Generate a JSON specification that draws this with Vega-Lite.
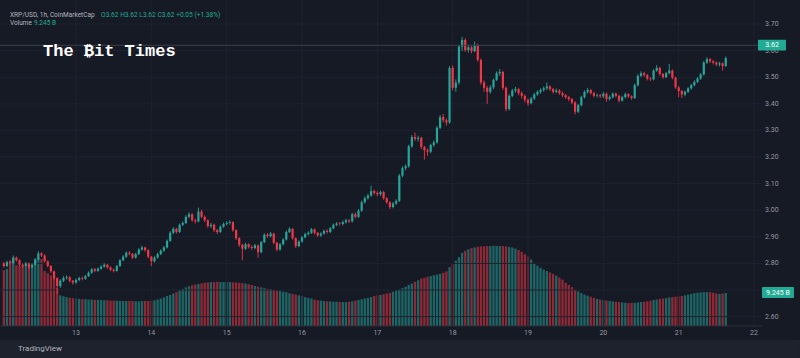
{
"$schema":"https://vega.github.io/schema/vega-lite/v6.json",
"width":762,"height":326,
"autosize":{"type":"none"},
"padding":{"left":0,"top":0,"right":38,"bottom":32},
"background":"#161a25",
"config":{"view":{"stroke":null},"font":"Roboto"},
"datasets":{"candles":[
{"t":"2025-07-12T01:00Z","o":2.800,"h":2.806,"l":2.784,"c":2.790,"v":15.6},
{"t":"2025-07-12T02:00Z","o":2.790,"h":2.810,"l":2.786,"c":2.805,"v":16.0},
{"t":"2025-07-12T03:00Z","o":2.805,"h":2.812,"l":2.795,"c":2.800,"v":18.2},
{"t":"2025-07-12T04:00Z","o":2.800,"h":2.830,"l":2.797,"c":2.822,"v":18.6},
{"t":"2025-07-12T05:00Z","o":2.822,"h":2.826,"l":2.806,"c":2.812,"v":17.0},
{"t":"2025-07-12T06:00Z","o":2.812,"h":2.815,"l":2.788,"c":2.795,"v":16.8},
{"t":"2025-07-12T07:00Z","o":2.795,"h":2.800,"l":2.782,"c":2.790,"v":16.9},
{"t":"2025-07-12T08:00Z","o":2.790,"h":2.806,"l":2.786,"c":2.800,"v":16.6},
{"t":"2025-07-12T09:00Z","o":2.800,"h":2.803,"l":2.779,"c":2.785,"v":16.7},
{"t":"2025-07-12T10:00Z","o":2.785,"h":2.800,"l":2.781,"c":2.795,"v":16.4},
{"t":"2025-07-12T11:00Z","o":2.795,"h":2.820,"l":2.792,"c":2.815,"v":18.4},
{"t":"2025-07-12T12:00Z","o":2.815,"h":2.846,"l":2.812,"c":2.838,"v":19.1},
{"t":"2025-07-12T13:00Z","o":2.838,"h":2.842,"l":2.824,"c":2.830,"v":18.8},
{"t":"2025-07-12T14:00Z","o":2.830,"h":2.834,"l":2.803,"c":2.808,"v":15.4},
{"t":"2025-07-12T15:00Z","o":2.808,"h":2.811,"l":2.785,"c":2.790,"v":14.8},
{"t":"2025-07-12T16:00Z","o":2.790,"h":2.794,"l":2.764,"c":2.770,"v":14.2},
{"t":"2025-07-12T17:00Z","o":2.770,"h":2.773,"l":2.738,"c":2.745,"v":13.6},
{"t":"2025-07-12T18:00Z","o":2.745,"h":2.748,"l":2.686,"c":2.715,"v":10.6},
{"t":"2025-07-12T19:00Z","o":2.715,"h":2.740,"l":2.708,"c":2.735,"v":8.6},
{"t":"2025-07-12T20:00Z","o":2.735,"h":2.752,"l":2.730,"c":2.745,"v":8.3},
{"t":"2025-07-12T21:00Z","o":2.745,"h":2.755,"l":2.739,"c":2.748,"v":8.1},
{"t":"2025-07-12T22:00Z","o":2.748,"h":2.752,"l":2.729,"c":2.735,"v":7.9},
{"t":"2025-07-12T23:00Z","o":2.735,"h":2.738,"l":2.720,"c":2.728,"v":7.8},
{"t":"2025-07-13T00:00Z","o":2.728,"h":2.743,"l":2.724,"c":2.738,"v":7.7},
{"t":"2025-07-13T01:00Z","o":2.738,"h":2.750,"l":2.733,"c":2.745,"v":7.6},
{"t":"2025-07-13T02:00Z","o":2.745,"h":2.751,"l":2.736,"c":2.742,"v":7.5},
{"t":"2025-07-13T03:00Z","o":2.742,"h":2.757,"l":2.738,"c":2.752,"v":7.5},
{"t":"2025-07-13T04:00Z","o":2.752,"h":2.770,"l":2.749,"c":2.765,"v":7.4},
{"t":"2025-07-13T05:00Z","o":2.765,"h":2.782,"l":2.761,"c":2.778,"v":7.4},
{"t":"2025-07-13T06:00Z","o":2.778,"h":2.783,"l":2.767,"c":2.772,"v":7.3},
{"t":"2025-07-13T07:00Z","o":2.772,"h":2.785,"l":2.768,"c":2.780,"v":7.3},
{"t":"2025-07-13T08:00Z","o":2.780,"h":2.793,"l":2.776,"c":2.788,"v":7.3},
{"t":"2025-07-13T09:00Z","o":2.788,"h":2.801,"l":2.784,"c":2.795,"v":7.2},
{"t":"2025-07-13T10:00Z","o":2.795,"h":2.798,"l":2.780,"c":2.785,"v":7.2},
{"t":"2025-07-13T11:00Z","o":2.785,"h":2.789,"l":2.771,"c":2.776,"v":7.1},
{"t":"2025-07-13T12:00Z","o":2.776,"h":2.781,"l":2.766,"c":2.772,"v":7.1},
{"t":"2025-07-13T13:00Z","o":2.772,"h":2.794,"l":2.769,"c":2.790,"v":7.1},
{"t":"2025-07-13T14:00Z","o":2.790,"h":2.816,"l":2.787,"c":2.812,"v":7.0},
{"t":"2025-07-13T15:00Z","o":2.812,"h":2.831,"l":2.808,"c":2.825,"v":7.0},
{"t":"2025-07-13T16:00Z","o":2.825,"h":2.845,"l":2.821,"c":2.840,"v":7.0},
{"t":"2025-07-13T17:00Z","o":2.840,"h":2.846,"l":2.830,"c":2.836,"v":7.0},
{"t":"2025-07-13T18:00Z","o":2.836,"h":2.839,"l":2.817,"c":2.822,"v":7.0},
{"t":"2025-07-13T19:00Z","o":2.822,"h":2.840,"l":2.818,"c":2.835,"v":6.9},
{"t":"2025-07-13T20:00Z","o":2.835,"h":2.857,"l":2.831,"c":2.852,"v":6.9},
{"t":"2025-07-13T21:00Z","o":2.852,"h":2.866,"l":2.848,"c":2.860,"v":7.0},
{"t":"2025-07-13T22:00Z","o":2.860,"h":2.863,"l":2.844,"c":2.850,"v":7.0},
{"t":"2025-07-13T23:00Z","o":2.850,"h":2.853,"l":2.819,"c":2.825,"v":7.0},
{"t":"2025-07-14T00:00Z","o":2.825,"h":2.828,"l":2.790,"c":2.808,"v":7.1},
{"t":"2025-07-14T01:00Z","o":2.808,"h":2.827,"l":2.803,"c":2.822,"v":7.2},
{"t":"2025-07-14T02:00Z","o":2.822,"h":2.840,"l":2.818,"c":2.835,"v":7.4},
{"t":"2025-07-14T03:00Z","o":2.835,"h":2.853,"l":2.831,"c":2.848,"v":7.7},
{"t":"2025-07-14T04:00Z","o":2.848,"h":2.866,"l":2.844,"c":2.860,"v":8.0},
{"t":"2025-07-14T05:00Z","o":2.860,"h":2.890,"l":2.856,"c":2.885,"v":8.4},
{"t":"2025-07-14T06:00Z","o":2.885,"h":2.921,"l":2.881,"c":2.915,"v":8.7},
{"t":"2025-07-14T07:00Z","o":2.915,"h":2.936,"l":2.910,"c":2.930,"v":9.1},
{"t":"2025-07-14T08:00Z","o":2.930,"h":2.934,"l":2.912,"c":2.918,"v":9.5},
{"t":"2025-07-14T09:00Z","o":2.918,"h":2.950,"l":2.914,"c":2.945,"v":10.0},
{"t":"2025-07-14T10:00Z","o":2.945,"h":2.958,"l":2.940,"c":2.952,"v":10.4},
{"t":"2025-07-14T11:00Z","o":2.952,"h":2.981,"l":2.948,"c":2.975,"v":10.8},
{"t":"2025-07-14T12:00Z","o":2.975,"h":2.992,"l":2.970,"c":2.985,"v":11.1},
{"t":"2025-07-14T13:00Z","o":2.985,"h":2.989,"l":2.957,"c":2.962,"v":11.4},
{"t":"2025-07-14T14:00Z","o":2.962,"h":2.968,"l":2.950,"c":2.958,"v":11.6},
{"t":"2025-07-14T15:00Z","o":2.958,"h":3.010,"l":2.954,"c":2.995,"v":11.8},
{"t":"2025-07-14T16:00Z","o":2.995,"h":3.002,"l":2.970,"c":2.975,"v":11.9},
{"t":"2025-07-14T17:00Z","o":2.975,"h":2.980,"l":2.955,"c":2.962,"v":12.1},
{"t":"2025-07-14T18:00Z","o":2.962,"h":2.966,"l":2.934,"c":2.940,"v":12.2},
{"t":"2025-07-14T19:00Z","o":2.940,"h":2.952,"l":2.933,"c":2.945,"v":12.3},
{"t":"2025-07-14T20:00Z","o":2.945,"h":2.949,"l":2.918,"c":2.925,"v":12.3},
{"t":"2025-07-14T21:00Z","o":2.925,"h":2.930,"l":2.910,"c":2.918,"v":12.4},
{"t":"2025-07-14T22:00Z","o":2.918,"h":2.943,"l":2.914,"c":2.938,"v":12.3},
{"t":"2025-07-14T23:00Z","o":2.938,"h":2.954,"l":2.934,"c":2.948,"v":12.3},
{"t":"2025-07-15T00:00Z","o":2.948,"h":2.959,"l":2.943,"c":2.952,"v":12.3},
{"t":"2025-07-15T01:00Z","o":2.952,"h":2.962,"l":2.946,"c":2.955,"v":12.3},
{"t":"2025-07-15T02:00Z","o":2.955,"h":2.958,"l":2.919,"c":2.925,"v":12.2},
{"t":"2025-07-15T03:00Z","o":2.925,"h":2.928,"l":2.888,"c":2.895,"v":12.2},
{"t":"2025-07-15T04:00Z","o":2.895,"h":2.898,"l":2.862,"c":2.870,"v":12.1},
{"t":"2025-07-15T05:00Z","o":2.870,"h":2.874,"l":2.812,"c":2.855,"v":12.0},
{"t":"2025-07-15T06:00Z","o":2.855,"h":2.878,"l":2.850,"c":2.872,"v":11.9},
{"t":"2025-07-15T07:00Z","o":2.872,"h":2.876,"l":2.856,"c":2.862,"v":11.7},
{"t":"2025-07-15T08:00Z","o":2.862,"h":2.868,"l":2.851,"c":2.858,"v":11.5},
{"t":"2025-07-15T09:00Z","o":2.858,"h":2.873,"l":2.853,"c":2.868,"v":11.2},
{"t":"2025-07-15T10:00Z","o":2.868,"h":2.871,"l":2.822,"c":2.842,"v":11.0},
{"t":"2025-07-15T11:00Z","o":2.842,"h":2.884,"l":2.838,"c":2.880,"v":10.8},
{"t":"2025-07-15T12:00Z","o":2.880,"h":2.913,"l":2.876,"c":2.908,"v":10.6},
{"t":"2025-07-15T13:00Z","o":2.908,"h":2.914,"l":2.896,"c":2.902,"v":10.4},
{"t":"2025-07-15T14:00Z","o":2.902,"h":2.918,"l":2.898,"c":2.912,"v":10.3},
{"t":"2025-07-15T15:00Z","o":2.912,"h":2.915,"l":2.872,"c":2.878,"v":10.1},
{"t":"2025-07-15T16:00Z","o":2.878,"h":2.881,"l":2.846,"c":2.852,"v":9.9},
{"t":"2025-07-15T17:00Z","o":2.852,"h":2.877,"l":2.848,"c":2.872,"v":9.8},
{"t":"2025-07-15T18:00Z","o":2.872,"h":2.895,"l":2.868,"c":2.890,"v":9.6},
{"t":"2025-07-15T19:00Z","o":2.890,"h":2.924,"l":2.886,"c":2.918,"v":9.5},
{"t":"2025-07-15T20:00Z","o":2.918,"h":2.936,"l":2.914,"c":2.930,"v":9.2},
{"t":"2025-07-15T21:00Z","o":2.930,"h":2.933,"l":2.889,"c":2.895,"v":9.0},
{"t":"2025-07-15T22:00Z","o":2.895,"h":2.898,"l":2.858,"c":2.865,"v":8.8},
{"t":"2025-07-15T23:00Z","o":2.865,"h":2.887,"l":2.861,"c":2.882,"v":8.6},
{"t":"2025-07-16T00:00Z","o":2.882,"h":2.903,"l":2.878,"c":2.898,"v":8.4},
{"t":"2025-07-16T01:00Z","o":2.898,"h":2.915,"l":2.894,"c":2.910,"v":8.1},
{"t":"2025-07-16T02:00Z","o":2.910,"h":2.921,"l":2.905,"c":2.915,"v":7.9},
{"t":"2025-07-16T03:00Z","o":2.915,"h":2.933,"l":2.911,"c":2.928,"v":7.7},
{"t":"2025-07-16T04:00Z","o":2.928,"h":2.931,"l":2.909,"c":2.915,"v":7.4},
{"t":"2025-07-16T05:00Z","o":2.915,"h":2.918,"l":2.899,"c":2.905,"v":7.2},
{"t":"2025-07-16T06:00Z","o":2.905,"h":2.917,"l":2.900,"c":2.912,"v":7.1},
{"t":"2025-07-16T07:00Z","o":2.912,"h":2.927,"l":2.908,"c":2.922,"v":7.0},
{"t":"2025-07-16T08:00Z","o":2.922,"h":2.928,"l":2.912,"c":2.918,"v":6.9},
{"t":"2025-07-16T09:00Z","o":2.918,"h":2.937,"l":2.914,"c":2.932,"v":6.9},
{"t":"2025-07-16T10:00Z","o":2.932,"h":2.950,"l":2.928,"c":2.945,"v":6.8},
{"t":"2025-07-16T11:00Z","o":2.945,"h":2.956,"l":2.940,"c":2.950,"v":6.8},
{"t":"2025-07-16T12:00Z","o":2.950,"h":2.956,"l":2.942,"c":2.948,"v":6.7},
{"t":"2025-07-16T13:00Z","o":2.948,"h":2.961,"l":2.943,"c":2.955,"v":6.7},
{"t":"2025-07-16T14:00Z","o":2.955,"h":2.968,"l":2.950,"c":2.962,"v":6.7},
{"t":"2025-07-16T15:00Z","o":2.962,"h":2.967,"l":2.952,"c":2.958,"v":6.8},
{"t":"2025-07-16T16:00Z","o":2.958,"h":2.990,"l":2.954,"c":2.985,"v":6.9},
{"t":"2025-07-16T17:00Z","o":2.985,"h":2.992,"l":2.969,"c":2.975,"v":7.1},
{"t":"2025-07-16T18:00Z","o":2.975,"h":3.004,"l":2.971,"c":2.998,"v":7.3},
{"t":"2025-07-16T19:00Z","o":2.998,"h":3.036,"l":2.994,"c":3.030,"v":7.5},
{"t":"2025-07-16T20:00Z","o":3.030,"h":3.052,"l":3.025,"c":3.045,"v":7.7},
{"t":"2025-07-16T21:00Z","o":3.045,"h":3.062,"l":3.040,"c":3.055,"v":7.9},
{"t":"2025-07-16T22:00Z","o":3.055,"h":3.092,"l":3.050,"c":3.072,"v":8.1},
{"t":"2025-07-16T23:00Z","o":3.072,"h":3.078,"l":3.058,"c":3.065,"v":8.4},
{"t":"2025-07-17T00:00Z","o":3.065,"h":3.071,"l":3.052,"c":3.060,"v":8.6},
{"t":"2025-07-17T01:00Z","o":3.060,"h":3.074,"l":3.054,"c":3.068,"v":8.7},
{"t":"2025-07-17T02:00Z","o":3.068,"h":3.072,"l":3.039,"c":3.045,"v":8.9},
{"t":"2025-07-17T03:00Z","o":3.045,"h":3.049,"l":3.024,"c":3.030,"v":9.1},
{"t":"2025-07-17T04:00Z","o":3.030,"h":3.034,"l":3.004,"c":3.012,"v":9.3},
{"t":"2025-07-17T05:00Z","o":3.012,"h":3.031,"l":3.007,"c":3.025,"v":9.6},
{"t":"2025-07-17T06:00Z","o":3.025,"h":3.041,"l":3.020,"c":3.035,"v":10.0},
{"t":"2025-07-17T07:00Z","o":3.035,"h":3.136,"l":3.031,"c":3.130,"v":10.2},
{"t":"2025-07-17T08:00Z","o":3.130,"h":3.165,"l":3.124,"c":3.158,"v":10.6},
{"t":"2025-07-17T09:00Z","o":3.158,"h":3.172,"l":3.150,"c":3.165,"v":11.0},
{"t":"2025-07-17T10:00Z","o":3.165,"h":3.246,"l":3.160,"c":3.240,"v":11.5},
{"t":"2025-07-17T11:00Z","o":3.240,"h":3.282,"l":3.235,"c":3.275,"v":11.9},
{"t":"2025-07-17T12:00Z","o":3.275,"h":3.292,"l":3.260,"c":3.268,"v":12.4},
{"t":"2025-07-17T13:00Z","o":3.268,"h":3.280,"l":3.258,"c":3.272,"v":12.8},
{"t":"2025-07-17T14:00Z","o":3.272,"h":3.276,"l":3.230,"c":3.238,"v":13.3},
{"t":"2025-07-17T15:00Z","o":3.238,"h":3.242,"l":3.190,"c":3.225,"v":13.5},
{"t":"2025-07-17T16:00Z","o":3.225,"h":3.232,"l":3.205,"c":3.220,"v":13.8},
{"t":"2025-07-17T17:00Z","o":3.220,"h":3.250,"l":3.214,"c":3.245,"v":14.0},
{"t":"2025-07-17T18:00Z","o":3.245,"h":3.262,"l":3.238,"c":3.255,"v":14.2},
{"t":"2025-07-17T19:00Z","o":3.255,"h":3.316,"l":3.250,"c":3.310,"v":14.4},
{"t":"2025-07-17T20:00Z","o":3.310,"h":3.358,"l":3.305,"c":3.350,"v":14.6},
{"t":"2025-07-17T21:00Z","o":3.350,"h":3.362,"l":3.330,"c":3.338,"v":14.9},
{"t":"2025-07-17T22:00Z","o":3.338,"h":3.345,"l":3.318,"c":3.330,"v":15.3},
{"t":"2025-07-17T23:00Z","o":3.330,"h":3.542,"l":3.325,"c":3.535,"v":16.5},
{"t":"2025-07-18T00:00Z","o":3.535,"h":3.545,"l":3.450,"c":3.460,"v":17.3},
{"t":"2025-07-18T01:00Z","o":3.460,"h":3.492,"l":3.445,"c":3.480,"v":18.3},
{"t":"2025-07-18T02:00Z","o":3.480,"h":3.622,"l":3.472,"c":3.615,"v":19.3},
{"t":"2025-07-18T03:00Z","o":3.615,"h":3.652,"l":3.598,"c":3.640,"v":20.5},
{"t":"2025-07-18T04:00Z","o":3.640,"h":3.646,"l":3.595,"c":3.602,"v":21.1},
{"t":"2025-07-18T05:00Z","o":3.602,"h":3.622,"l":3.592,"c":3.612,"v":21.5},
{"t":"2025-07-18T06:00Z","o":3.612,"h":3.620,"l":3.590,"c":3.598,"v":21.8},
{"t":"2025-07-18T07:00Z","o":3.598,"h":3.634,"l":3.594,"c":3.620,"v":22.0},
{"t":"2025-07-18T08:00Z","o":3.620,"h":3.626,"l":3.558,"c":3.565,"v":22.2},
{"t":"2025-07-18T09:00Z","o":3.565,"h":3.570,"l":3.472,"c":3.480,"v":22.3},
{"t":"2025-07-18T10:00Z","o":3.480,"h":3.488,"l":3.445,"c":3.460,"v":22.3},
{"t":"2025-07-18T11:00Z","o":3.460,"h":3.468,"l":3.400,"c":3.445,"v":22.4},
{"t":"2025-07-18T12:00Z","o":3.445,"h":3.470,"l":3.438,"c":3.462,"v":22.4},
{"t":"2025-07-18T13:00Z","o":3.462,"h":3.495,"l":3.455,"c":3.490,"v":22.5},
{"t":"2025-07-18T14:00Z","o":3.490,"h":3.522,"l":3.486,"c":3.515,"v":22.4},
{"t":"2025-07-18T15:00Z","o":3.515,"h":3.530,"l":3.505,"c":3.520,"v":22.4},
{"t":"2025-07-18T16:00Z","o":3.520,"h":3.524,"l":3.452,"c":3.460,"v":22.4},
{"t":"2025-07-18T17:00Z","o":3.460,"h":3.465,"l":3.372,"c":3.380,"v":22.3},
{"t":"2025-07-18T18:00Z","o":3.380,"h":3.436,"l":3.375,"c":3.430,"v":22.1},
{"t":"2025-07-18T19:00Z","o":3.430,"h":3.456,"l":3.425,"c":3.450,"v":22.0},
{"t":"2025-07-18T20:00Z","o":3.450,"h":3.464,"l":3.442,"c":3.455,"v":21.7},
{"t":"2025-07-18T21:00Z","o":3.455,"h":3.460,"l":3.432,"c":3.440,"v":21.3},
{"t":"2025-07-18T22:00Z","o":3.440,"h":3.447,"l":3.420,"c":3.430,"v":20.8},
{"t":"2025-07-18T23:00Z","o":3.430,"h":3.435,"l":3.405,"c":3.415,"v":20.1},
{"t":"2025-07-19T00:00Z","o":3.415,"h":3.420,"l":3.392,"c":3.402,"v":19.5},
{"t":"2025-07-19T01:00Z","o":3.402,"h":3.426,"l":3.398,"c":3.420,"v":18.6},
{"t":"2025-07-19T02:00Z","o":3.420,"h":3.441,"l":3.414,"c":3.435,"v":17.6},
{"t":"2025-07-19T03:00Z","o":3.435,"h":3.451,"l":3.430,"c":3.445,"v":16.9},
{"t":"2025-07-19T04:00Z","o":3.445,"h":3.458,"l":3.438,"c":3.452,"v":16.3},
{"t":"2025-07-19T05:00Z","o":3.452,"h":3.465,"l":3.446,"c":3.458,"v":15.8},
{"t":"2025-07-19T06:00Z","o":3.458,"h":3.480,"l":3.452,"c":3.465,"v":15.4},
{"t":"2025-07-19T07:00Z","o":3.465,"h":3.470,"l":3.448,"c":3.455,"v":15.0},
{"t":"2025-07-19T08:00Z","o":3.455,"h":3.460,"l":3.438,"c":3.445,"v":14.6},
{"t":"2025-07-19T09:00Z","o":3.445,"h":3.457,"l":3.440,"c":3.450,"v":14.1},
{"t":"2025-07-19T10:00Z","o":3.450,"h":3.455,"l":3.434,"c":3.440,"v":13.6},
{"t":"2025-07-19T11:00Z","o":3.440,"h":3.446,"l":3.425,"c":3.432,"v":13.0},
{"t":"2025-07-19T12:00Z","o":3.432,"h":3.437,"l":3.418,"c":3.425,"v":12.1},
{"t":"2025-07-19T13:00Z","o":3.425,"h":3.430,"l":3.410,"c":3.418,"v":11.5},
{"t":"2025-07-19T14:00Z","o":3.418,"h":3.422,"l":3.398,"c":3.405,"v":10.9},
{"t":"2025-07-19T15:00Z","o":3.405,"h":3.410,"l":3.360,"c":3.370,"v":10.2},
{"t":"2025-07-19T16:00Z","o":3.370,"h":3.400,"l":3.365,"c":3.395,"v":9.7},
{"t":"2025-07-19T17:00Z","o":3.395,"h":3.430,"l":3.390,"c":3.425,"v":9.2},
{"t":"2025-07-19T18:00Z","o":3.425,"h":3.450,"l":3.420,"c":3.445,"v":8.8},
{"t":"2025-07-19T19:00Z","o":3.445,"h":3.460,"l":3.438,"c":3.452,"v":8.5},
{"t":"2025-07-19T20:00Z","o":3.452,"h":3.456,"l":3.434,"c":3.440,"v":8.2},
{"t":"2025-07-19T21:00Z","o":3.440,"h":3.445,"l":3.424,"c":3.430,"v":7.9},
{"t":"2025-07-19T22:00Z","o":3.430,"h":3.438,"l":3.424,"c":3.432,"v":7.6},
{"t":"2025-07-19T23:00Z","o":3.432,"h":3.437,"l":3.421,"c":3.428,"v":7.4},
{"t":"2025-07-20T00:00Z","o":3.428,"h":3.444,"l":3.422,"c":3.438,"v":7.3},
{"t":"2025-07-20T01:00Z","o":3.438,"h":3.442,"l":3.408,"c":3.418,"v":7.1},
{"t":"2025-07-20T02:00Z","o":3.418,"h":3.431,"l":3.412,"c":3.425,"v":7.0},
{"t":"2025-07-20T03:00Z","o":3.425,"h":3.443,"l":3.420,"c":3.438,"v":6.9},
{"t":"2025-07-20T04:00Z","o":3.438,"h":3.442,"l":3.424,"c":3.430,"v":6.8},
{"t":"2025-07-20T05:00Z","o":3.430,"h":3.434,"l":3.405,"c":3.412,"v":6.7},
{"t":"2025-07-20T06:00Z","o":3.412,"h":3.430,"l":3.408,"c":3.425,"v":6.6},
{"t":"2025-07-20T07:00Z","o":3.425,"h":3.442,"l":3.420,"c":3.436,"v":6.5},
{"t":"2025-07-20T08:00Z","o":3.436,"h":3.440,"l":3.422,"c":3.428,"v":6.4},
{"t":"2025-07-20T09:00Z","o":3.428,"h":3.432,"l":3.415,"c":3.422,"v":6.5},
{"t":"2025-07-20T10:00Z","o":3.422,"h":3.476,"l":3.418,"c":3.470,"v":6.5},
{"t":"2025-07-20T11:00Z","o":3.470,"h":3.511,"l":3.465,"c":3.505,"v":6.6},
{"t":"2025-07-20T12:00Z","o":3.505,"h":3.522,"l":3.500,"c":3.515,"v":6.7},
{"t":"2025-07-20T13:00Z","o":3.515,"h":3.520,"l":3.502,"c":3.508,"v":6.8},
{"t":"2025-07-20T14:00Z","o":3.508,"h":3.512,"l":3.488,"c":3.495,"v":6.9},
{"t":"2025-07-20T15:00Z","o":3.495,"h":3.500,"l":3.485,"c":3.492,"v":7.1},
{"t":"2025-07-20T16:00Z","o":3.492,"h":3.530,"l":3.488,"c":3.525,"v":7.3},
{"t":"2025-07-20T17:00Z","o":3.525,"h":3.545,"l":3.520,"c":3.535,"v":7.4},
{"t":"2025-07-20T18:00Z","o":3.535,"h":3.539,"l":3.506,"c":3.512,"v":7.6},
{"t":"2025-07-20T19:00Z","o":3.512,"h":3.516,"l":3.494,"c":3.500,"v":7.7},
{"t":"2025-07-20T20:00Z","o":3.500,"h":3.520,"l":3.496,"c":3.515,"v":7.8},
{"t":"2025-07-20T21:00Z","o":3.515,"h":3.550,"l":3.510,"c":3.525,"v":8.0},
{"t":"2025-07-20T22:00Z","o":3.525,"h":3.529,"l":3.492,"c":3.498,"v":8.1},
{"t":"2025-07-20T23:00Z","o":3.498,"h":3.502,"l":3.456,"c":3.462,"v":8.2},
{"t":"2025-07-21T00:00Z","o":3.462,"h":3.466,"l":3.425,"c":3.448,"v":8.3},
{"t":"2025-07-21T01:00Z","o":3.448,"h":3.452,"l":3.422,"c":3.435,"v":8.4},
{"t":"2025-07-21T02:00Z","o":3.435,"h":3.450,"l":3.428,"c":3.445,"v":8.6},
{"t":"2025-07-21T03:00Z","o":3.445,"h":3.463,"l":3.440,"c":3.458,"v":8.8},
{"t":"2025-07-21T04:00Z","o":3.458,"h":3.475,"l":3.453,"c":3.470,"v":9.0},
{"t":"2025-07-21T05:00Z","o":3.470,"h":3.488,"l":3.466,"c":3.482,"v":9.2},
{"t":"2025-07-21T06:00Z","o":3.482,"h":3.500,"l":3.478,"c":3.495,"v":9.3},
{"t":"2025-07-21T07:00Z","o":3.495,"h":3.516,"l":3.490,"c":3.510,"v":9.4},
{"t":"2025-07-21T08:00Z","o":3.510,"h":3.561,"l":3.506,"c":3.555,"v":9.5},
{"t":"2025-07-21T09:00Z","o":3.555,"h":3.575,"l":3.550,"c":3.568,"v":9.5},
{"t":"2025-07-21T10:00Z","o":3.568,"h":3.572,"l":3.553,"c":3.560,"v":9.5},
{"t":"2025-07-21T11:00Z","o":3.560,"h":3.564,"l":3.548,"c":3.555,"v":9.3},
{"t":"2025-07-21T12:00Z","o":3.555,"h":3.560,"l":3.542,"c":3.548,"v":9.1},
{"t":"2025-07-21T13:00Z","o":3.548,"h":3.558,"l":3.540,"c":3.552,"v":9.0},
{"t":"2025-07-21T14:00Z","o":3.552,"h":3.556,"l":3.525,"c":3.542,"v":9.1},
{"t":"2025-07-21T15:00Z","o":3.542,"h":3.578,"l":3.538,"c":3.572,"v":9.245}
],
"yt":[{"p":2.6},{"p":2.7},{"p":2.8},{"p":2.9},{"p":3.0},{"p":3.1},{"p":3.2},{"p":3.3},{"p":3.4},{"p":3.5},{"p":3.6},{"p":3.7}],
"xt":[{"d":"2025-07-13T00:00Z","day":13},{"d":"2025-07-14T00:00Z","day":14},{"d":"2025-07-15T00:00Z","day":15},{"d":"2025-07-16T00:00Z","day":16},{"d":"2025-07-17T00:00Z","day":17},{"d":"2025-07-18T00:00Z","day":18},{"d":"2025-07-19T00:00Z","day":19},{"d":"2025-07-20T00:00Z","day":20},{"d":"2025-07-21T00:00Z","day":21},{"d":"2025-07-22T00:00Z","day":22}],
"one":[{}]},
"layer":[
{"data":{"name":"candles"},
 "mark":{"type":"bar","size":2.3,"opacity":0.55},
 "encoding":{
  "x":{"field":"t","type":"temporal","scale":{"domain":[{"year":2025,"month":7,"date":11,"hours":23,"minutes":47,"utc":true},{"year":2025,"month":7,"date":22,"hours":2,"minutes":33,"utc":true}],"nice":false,"padding":0},"axis":null},
  "y":{"field":"v","type":"quantitative","scale":{"domain":[0,91.33],"zero":false,"nice":false,"padding":0},"axis":null},
  "y2":{"datum":0},
  "color":{"condition":{"test":"datum.c >= datum.o","value":"#26a69a"},"value":"#f23645"}
 }
},
{"layer":[
 {"data":{"name":"yt"},
  "mark":{"type":"rule","color":"#1e2230","strokeWidth":1},
  "encoding":{"y":{"field":"p","type":"quantitative","scale":{"domain":[2.5647,3.7902],"zero":false,"nice":false,"padding":0},"axis":null}}
 },
 {"data":{"name":"xt"},
  "mark":{"type":"rule","color":"#1e2230","strokeWidth":1},
  "encoding":{"x":{"field":"d","type":"temporal","axis":null}}
 },
 {"data":{"name":"candles"},
  "mark":{"type":"rule","strokeWidth":0.9},
  "encoding":{
   "x":{"field":"t","type":"temporal","axis":null},
   "y":{"field":"l","type":"quantitative","axis":null},
   "y2":{"field":"h"},
   "color":{"condition":{"test":"datum.c >= datum.o","value":"#26a69a"},"value":"#f23645"}
  }
 },
 {"data":{"name":"candles"},
  "mark":{"type":"bar","size":2.2},
  "encoding":{
   "x":{"field":"t","type":"temporal","axis":null},
   "y":{"field":"o","type":"quantitative","axis":null},
   "y2":{"field":"c"},
   "color":{"condition":{"test":"datum.c >= datum.o","value":"#26a69a"},"value":"#f23645"}
  }
 },
 {"data":{"name":"one"},
  "mark":{"type":"rule","color":"#2a2e39","strokeWidth":1},
  "encoding":{"y":{"datum":2.5647,"type":"quantitative","axis":null}}
 },
 {"data":{"name":"one"},
  "mark":{"type":"rule","color":"#3a3f4c","strokeWidth":1},
  "encoding":{"y":{"datum":3.62,"type":"quantitative","axis":null}}
 },
 {"data":{"name":"yt"},
  "transform":[{"filter":"datum.p != 2.7"}],
  "mark":{"type":"text","color":"#9598a1","fontSize":7,"align":"left","baseline":"middle"},
  "encoding":{
   "x":{"datum":{"year":2025,"month":7,"date":22,"hours":3,"minutes":30,"utc":true},"type":"temporal","axis":null},
   "y":{"field":"p","type":"quantitative","axis":null},
   "text":{"field":"p","type":"quantitative","format":".2f"}
  }
 },
 {"data":{"name":"xt"},
  "mark":{"type":"text","color":"#9598a1","fontSize":7,"align":"center","baseline":"middle"},
  "encoding":{
   "x":{"field":"d","type":"temporal","axis":null},
   "y":{"datum":2.5383,"type":"quantitative","axis":null},
   "text":{"field":"day","type":"nominal"}
  }
 },
 {"data":{"name":"one"},
  "mark":{"type":"rect","color":"#22ab94","cornerRadius":1},
  "encoding":{
   "x":{"datum":{"year":2025,"month":7,"date":22,"hours":1,"minutes":16,"utc":true},"type":"temporal","axis":null},
   "x2":{"datum":{"year":2025,"month":7,"date":22,"hours":10,"minutes":12,"utc":true}},
   "y":{"datum":3.641,"type":"quantitative","axis":null},
   "y2":{"datum":3.600}
  }
 },
 {"data":{"name":"one"},
  "mark":{"type":"text","text":"3.62","color":"#ffffff","fontSize":7,"align":"center","baseline":"middle"},
  "encoding":{
   "x":{"datum":{"year":2025,"month":7,"date":22,"hours":5,"minutes":44,"utc":true},"type":"temporal","axis":null},
   "y":{"datum":3.6205,"type":"quantitative","axis":null}
  }
 },
 {"data":{"name":"one"},
  "mark":{"type":"rect","color":"#22ab94","cornerRadius":1},
  "encoding":{
   "x":{"datum":{"year":2025,"month":7,"date":22,"hours":2,"minutes":33,"utc":true},"type":"temporal","axis":null},
   "x2":{"datum":{"year":2025,"month":7,"date":22,"hours":12,"minutes":44,"utc":true}},
   "y":{"datum":2.711,"type":"quantitative","axis":null},
   "y2":{"datum":2.670}
  }
 },
 {"data":{"name":"one"},
  "mark":{"type":"text","text":"9.245 B","color":"#ffffff","fontSize":7,"align":"center","baseline":"middle"},
  "encoding":{
   "x":{"datum":{"year":2025,"month":7,"date":22,"hours":7,"minutes":38,"utc":true},"type":"temporal","axis":null},
   "y":{"datum":2.690,"type":"quantitative","axis":null}
  }
 },
 {"data":{"name":"one"},
  "mark":{"type":"rect","color":"#1e222d"},
  "encoding":{
   "x":{"datum":{"year":2025,"month":7,"date":11,"hours":23,"minutes":47,"utc":true},"type":"temporal","axis":null},
   "x2":{"datum":{"year":2025,"month":7,"date":22,"hours":14,"minutes":39,"utc":true}},
   "y":{"datum":2.5120,"type":"quantitative","axis":null},
   "y2":{"datum":2.4444}
  }
 },
 {"data":{"name":"one"},
  "mark":{"type":"text","text":"TradingView","color":"#b2b5be","fontSize":8,"align":"left","baseline":"middle"},
  "encoding":{
   "x":{"datum":{"year":2025,"month":7,"date":12,"hours":5,"minutes":31,"utc":true},"type":"temporal","axis":null},
   "y":{"datum":2.4782,"type":"quantitative","axis":null}
  }
 },
 {"data":{"name":"one"},
  "mark":{"type":"text","text":"XRP/USD, 1h, CoinMarketCap","color":"#b2b5be","fontSize":6.5,"align":"left","baseline":"middle"},
  "encoding":{
   "x":{"datum":{"year":2025,"month":7,"date":12,"hours":2,"minutes":58,"utc":true},"type":"temporal","axis":null},
   "y":{"datum":3.7347,"type":"quantitative","axis":null}
  }
 },
 {"data":{"name":"one"},
  "mark":{"type":"text","text":"O3.62  H3.62  L3.62  C3.62  +0.05 (+1.38%)","color":"#22ab94","fontSize":6.6,"align":"left","baseline":"middle"},
  "encoding":{
   "x":{"datum":{"year":2025,"month":7,"date":13,"hours":8,"minutes":0,"utc":true},"type":"temporal","axis":null},
   "y":{"datum":3.7347,"type":"quantitative","axis":null}
  }
 },
 {"data":{"name":"one"},
  "mark":{"type":"text","text":"Volume","color":"#b2b5be","fontSize":6.5,"align":"left","baseline":"middle"},
  "encoding":{
   "x":{"datum":{"year":2025,"month":7,"date":12,"hours":2,"minutes":58,"utc":true},"type":"temporal","axis":null},
   "y":{"datum":3.7024,"type":"quantitative","axis":null}
  }
 },
 {"data":{"name":"one"},
  "mark":{"type":"text","text":"9.245 B","color":"#22ab94","fontSize":6.5,"align":"left","baseline":"middle"},
  "encoding":{
   "x":{"datum":{"year":2025,"month":7,"date":12,"hours":10,"minutes":37,"utc":true},"type":"temporal","axis":null},
   "y":{"datum":3.7024,"type":"quantitative","axis":null}
  }
 },
 {"data":{"name":"one"},
  "mark":{"type":"text","text":"The ₿it Times","color":"#ffffff","fontSize":17,"font":"Liberation Mono","fontWeight":"bold","align":"left","baseline":"middle"},
  "encoding":{
   "x":{"datum":{"year":2025,"month":7,"date":12,"hours":13,"minutes":29,"utc":true},"type":"temporal","axis":null},
   "y":{"datum":3.5994,"type":"quantitative","axis":null}
  }
 }
]}
],
"resolve":{"scale":{"y":"independent"}}
}
